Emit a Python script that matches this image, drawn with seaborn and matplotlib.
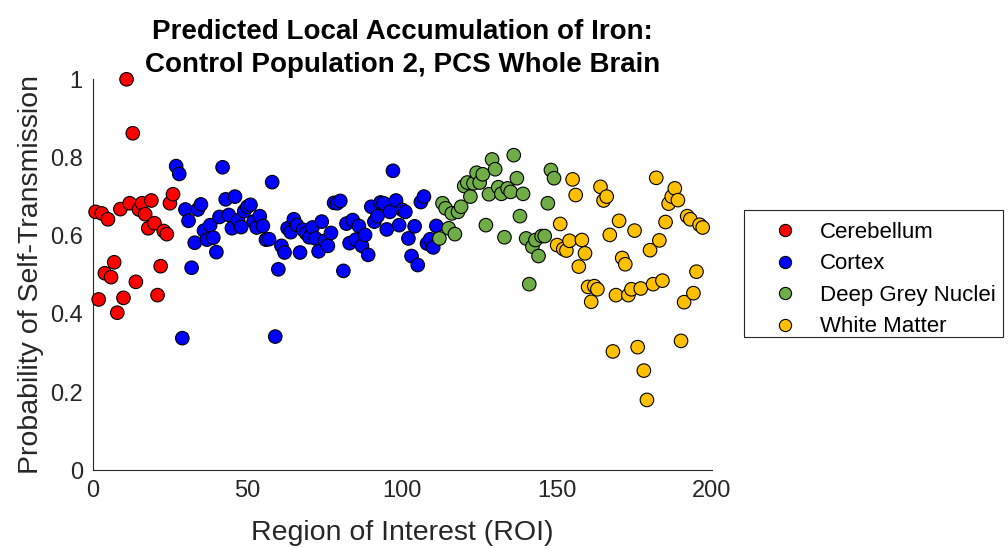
import numpy as np
import pandas as pd
import matplotlib
matplotlib.use("Agg")
import matplotlib.pyplot as plt
from matplotlib.patches import Rectangle
import seaborn as sns

# ---- data ----
cerebellum = [0.661, 0.437, 0.657, 0.504, 0.642, 0.494, 0.532, 0.403, 0.668, 0.441,
              1.000, 0.683, 0.862, 0.482, 0.667, 0.683, 0.655, 0.619, 0.690, 0.632,
              0.448, 0.522, 0.612, 0.604, 0.683, 0.706]
cortex = [0.778, 0.758, 0.338, 0.667, 0.638, 0.518, 0.582, 0.667, 0.680, 0.613,
          0.590, 0.627, 0.595, 0.558, 0.648, 0.775, 0.693, 0.653, 0.619, 0.700,
          0.640, 0.622, 0.663, 0.674, 0.679, 0.636, 0.621, 0.650, 0.625, 0.590,
          0.591, 0.737, 0.342, 0.514, 0.574, 0.557, 0.619, 0.609, 0.642, 0.627,
          0.557, 0.615, 0.606, 0.596, 0.621, 0.593, 0.560, 0.636, 0.587, 0.574,
          0.607, 0.684, 0.683, 0.689, 0.510, 0.631, 0.581, 0.640, 0.590, 0.625,
          0.574, 0.602, 0.551, 0.674, 0.636, 0.650, 0.685, 0.683, 0.616, 0.661,
          0.766, 0.690, 0.627, 0.666, 0.661, 0.593, 0.548, 0.624, 0.525, 0.686,
          0.700, 0.580, 0.591, 0.570, 0.625]
deep_grey = [0.593, 0.683, 0.670, 0.619, 0.657, 0.604, 0.661, 0.674, 0.727, 0.736,
             0.700, 0.734, 0.761, 0.736, 0.757, 0.627, 0.706, 0.795, 0.770, 0.724,
             0.707, 0.596, 0.721, 0.712, 0.806, 0.747, 0.650, 0.707, 0.593, 0.476,
             0.572, 0.589, 0.548, 0.599, 0.599, 0.683, 0.768, 0.747]
white_matter = [0.576, 0.630, 0.566, 0.562, 0.587, 0.744, 0.704, 0.521, 0.589, 0.555,
                0.469, 0.431, 0.471, 0.463, 0.725, 0.690, 0.700, 0.602, 0.304, 0.448,
                0.638, 0.543, 0.527, 0.448, 0.463, 0.613, 0.315, 0.465, 0.255, 0.180,
                0.563, 0.476, 0.748, 0.588, 0.485, 0.635, 0.682, 0.700, 0.721, 0.691,
                0.331, 0.430, 0.650, 0.642, 0.453, 0.508, 0.628, 0.621]
groups = ["Cerebellum", "Cortex", "Deep Grey Nuclei", "White Matter"]
colors = ["#FF0000", "#0000FF", "#70AD47", "#FFC000"]
x_ticks = [0, 50, 100, 150, 200]
y_ticks = [0, 0.2, 0.4, 0.6, 0.8, 1.0]
y_tick_labels = ["0", "0.2", "0.4", "0.6", "0.8", "1"]

vals = cerebellum + cortex + deep_grey + white_matter
labs = ([groups[0]] * len(cerebellum) + [groups[1]] * len(cortex) +
        [groups[2]] * len(deep_grey) + [groups[3]] * len(white_matter))
df = pd.DataFrame({"ROI": np.arange(1, len(vals) + 1), "P": vals, "Region": labs})

sns.set_style("white")
plt.rcParams["font.family"] = ["Liberation Sans", "DejaVu Sans"]
ink = "#262626"
W, H = 1008, 548

fig = plt.figure(figsize=(W / 100, H / 100), dpi=100)
ax = fig.add_axes([92.5 / W, 1 - 470.3 / H, (712 - 92.5) / W, (470.3 - 79.3) / H])

sns.scatterplot(data=df, x="ROI", y="P", hue="Region", hue_order=groups,
                palette=colors, s=95, edgecolor="black", linewidth=0.8,
                ax=ax, zorder=3, clip_on=False)

ax.set_xlim(0, 200)
ax.set_ylim(0, 1)
ax.set_xticks(x_ticks)
ax.set_yticks(y_ticks)
ax.set_yticklabels(y_tick_labels)
for s in ["top", "right"]:
    ax.spines[s].set_visible(False)
for s in ["left", "bottom"]:
    ax.spines[s].set_color(ink)
    ax.spines[s].set_linewidth(0.8)
ax.tick_params(direction="in", length=6, width=0.8, colors=ink,
               labelsize=17, pad=7)
ax.set_xlabel("Region of Interest (ROI)", fontsize=20.5, color=ink, labelpad=13)
ax.set_ylabel("Probability of Self-Transmission", fontsize=20.5, color=ink, labelpad=4)
ax.set_title("Predicted Local Accumulation of Iron:\nControl Population 2, PCS Whole Brain",
             fontsize=20, fontweight="bold", color="black", pad=5, linespacing=1.35)

# legend entries (frame drawn separately to match the reference box)
leg = ax.legend(loc="upper left", bbox_to_anchor=(770 / W, 1 - 222 / H),
                bbox_transform=fig.transFigure, fontsize=16, frameon=False,
                borderpad=0, labelspacing=0.47, handlelength=1.35,
                handletextpad=0.9, borderaxespad=0, markerscale=0.9)
for t in leg.get_texts():
    t.set_color("black")
fig.patches.append(Rectangle((744 / W, 1 - 337 / H), (1003 - 744) / W, (337 - 210) / H,
                             transform=fig.transFigure, fill=False,
                             edgecolor=ink, linewidth=0.8))

fig.savefig("out.png", dpi=100)
